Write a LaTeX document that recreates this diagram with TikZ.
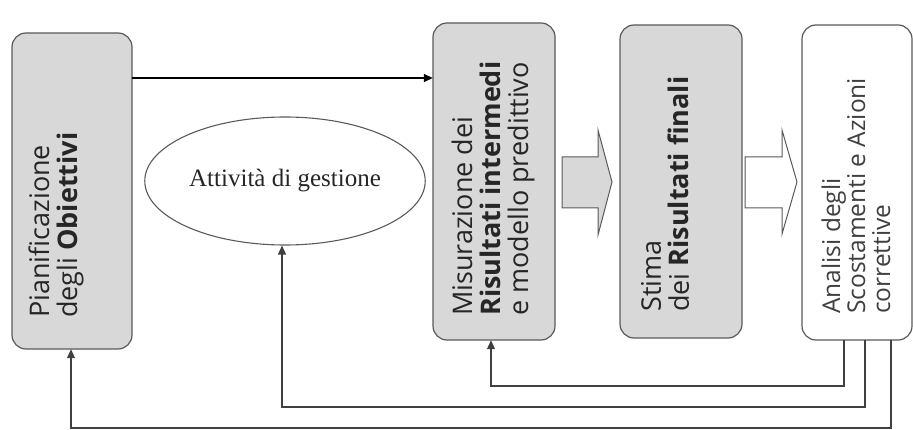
\documentclass[tikz,border=0pt]{standalone}
\usepackage{fontspec}
\setmainfont{Liberation Serif}
\newfontfamily\boxfont{Open Sans}
\usetikzlibrary{shapes.geometric,arrows.meta}
\definecolor{boxgray}{RGB}{216,216,216}
\definecolor{edgegray}{RGB}{90,90,90}
\tikzset{
  stage/.style={draw=edgegray, line width=1.2pt, rounded corners=14pt, fill=boxgray},
  stagewhite/.style={stage, fill=white},
  vlabel/.style={rotate=90, anchor=west, align=left, inner sep=0pt,
    font=\boxfont\fontsize{27}{28}\selectfont, text=black!85},
  flow/.style={line width=1.4pt, -{Triangle[length=9pt,width=8pt]}},
  back/.style={draw=black!75, line width=1.1pt},
  backarrow/.style={back, -{Triangle[length=9pt,width=8pt]}},
  blockarrow/.style={draw=edgegray, line width=1pt},
}
\begin{document}
\begin{tikzpicture}[x=1pt,y=-1pt]
\useasboundingbox (0,0) rectangle (913,430);

% stage boxes
\draw[stage] (12,33) rectangle (132,349);
\node[minimum width=120pt, minimum height=316pt, inner sep=0pt] (b1) at (72,191) {};
\draw[stage] (433,23) rectangle (555,340);
\node[minimum width=122pt, minimum height=317pt, inner sep=0pt] (b2) at (494,181.5) {};
\draw[stage] (620,25) rectangle (742,338);
\node[minimum width=122pt, minimum height=313pt, inner sep=0pt] (b3) at (681,181.5) {};
\draw[stagewhite] (802,25) rectangle (912,340);
\node[minimum width=110pt, minimum height=315pt, inner sep=0pt] (b4) at (857,182.5) {};

% box texts, read from bottom to top
\node[vlabel] (t1) at (56,318) {Pianificazione\\degli \textbf{Obiettivi}};
\node[vlabel] (t2) at (493,316) {Misurazione dei\\\textbf{Risultati intermedi}\\e modello predittivo};
\node[vlabel] (t3) at (665,312) {Stima\\dei \textbf{Risultati finali}};
\node[vlabel, font=\boxfont\fontsize{24.5}{25}\selectfont, text=black!75] (t4) at (856,314) {Analisi degli\\Scostamenti e Azioni\\correttive};

% management activity
\node[draw=edgegray, line width=1.1pt, ellipse, minimum width=280pt, minimum height=128pt,
  font=\fontsize{25}{28}\selectfont, text=black!85] (att) at (285,181) {Attività di gestione};

% block arrows between stages
\draw[blockarrow, fill=boxgray] (562,157) -- (598,157) -- (598,130) -- (612,182)
  -- (598,235) -- (598,208) -- (562,208) -- cycle;
\draw[blockarrow, fill=white] (745,157) -- (782,157) -- (782,130) -- (797,182)
  -- (782,234) -- (782,208) -- (745,208) -- cycle;

% planning feeds measurement
\coordinate (ytop) at (0,78);
\draw[flow] (b1.east |- ytop) -- (b2.west |- ytop);

% feedback loops from the analysis stage
\coordinate (f1) at (844,386);
\coordinate (f2) at (865,407);
\coordinate (f3) at (891,428);
\draw[backarrow] (b4.south -| f1) -- (f1) -| ([xshift=-3pt]b2.south);
\draw[backarrow] (b4.south -| f2) -- (f2) -| ([xshift=-3pt]att.south);
\draw[backarrow] (b4.south -| f3) -- (f3) -| ([xshift=-1pt]b1.south);
\end{tikzpicture}
\end{document}
